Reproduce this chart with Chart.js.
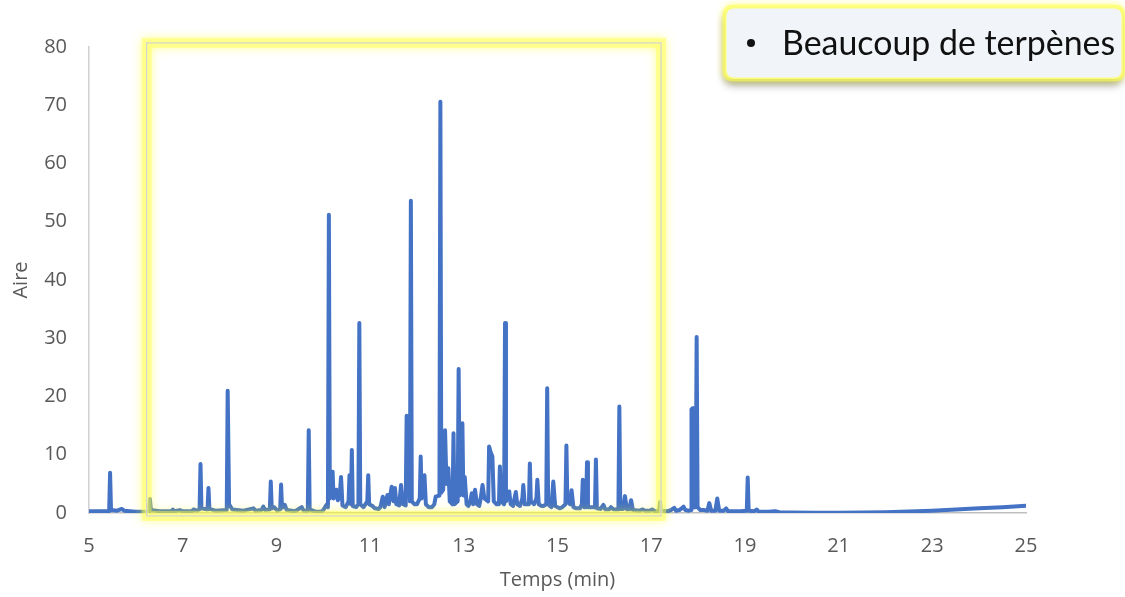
<!DOCTYPE html>
<html>
<head>
<meta charset="utf-8">
<script src="https://cdn.jsdelivr.net/npm/chart.js@4/dist/chart.umd.min.js"></script>
<style>
  html, body { margin: 0; padding: 0; background: #ffffff; }
  #wrap { width: 1125px; height: 597px; position: relative; }
</style>
</head>
<body>
<div id="wrap"><canvas id="c" width="1125" height="597"></canvas></div>
<script>
// ---- Data (time in min, area) ----
const times = [
  5.00, 5.20, 5.43, 5.45, 5.47, 5.60, 5.70, 5.75, 6.00, 6.28, 6.30, 6.32, 6.50, 6.76, 6.79, 6.82, 6.94, 7.00,
  7.20, 7.23, 7.30, 7.36, 7.38, 7.40, 7.53, 7.55, 7.57, 7.70, 7.94, 7.96, 7.99, 8.06, 8.30, 8.51, 8.55,
  8.68, 8.72, 8.76, 8.86, 8.88, 8.90, 8.95, 9.02, 9.08, 9.10, 9.12, 9.18, 9.22, 9.40, 9.54, 9.58, 9.67,
  9.69, 9.71, 9.85, 9.95, 10.00, 10.07, 10.10, 10.12, 10.14, 10.20, 10.22, 10.28, 10.31, 10.35, 10.38,
  10.41, 10.48, 10.54, 10.56, 10.59, 10.61, 10.63, 10.70, 10.75, 10.77, 10.79, 10.86, 10.94, 10.96, 10.98,
  11.05, 11.10, 11.18, 11.22, 11.27, 11.31, 11.37, 11.40, 11.46, 11.50, 11.53, 11.56, 11.62, 11.66, 11.70,
  11.76, 11.78, 11.80, 11.85, 11.87, 11.89, 11.95, 12.00, 12.06, 12.08, 12.10, 12.16, 12.19, 12.25, 12.32,
  12.37, 12.40, 12.48, 12.50, 12.52, 12.56, 12.60, 12.63, 12.67, 12.70, 12.76, 12.78, 12.80, 12.87, 12.89,
  12.91, 12.97, 12.99, 13.02, 13.06, 13.10, 13.14, 13.17, 13.20, 13.24, 13.28, 13.33, 13.36, 13.40, 13.44,
  13.52, 13.54, 13.57, 13.61, 13.64, 13.70, 13.75, 13.77, 13.80, 13.86, 13.88, 13.90, 13.97, 14.00, 14.05,
  14.11, 14.14, 14.20, 14.25, 14.27, 14.30, 14.39, 14.41, 14.43, 14.50, 14.55, 14.57, 14.60, 14.66, 14.70,
  14.76, 14.78, 14.80, 14.87, 14.91, 14.95, 15.00, 15.05, 15.10, 15.17, 15.19, 15.21, 15.27, 15.30, 15.34,
  15.40, 15.48, 15.52, 15.54, 15.57, 15.61, 15.63, 15.65, 15.72, 15.80, 15.82, 15.84, 15.92, 15.98, 16.02,
  16.10, 16.14, 16.20, 16.30, 16.32, 16.34, 16.40, 16.44, 16.48, 16.53, 16.57, 16.61, 16.75, 16.82, 16.87,
  16.97, 17.02, 17.08, 17.17, 17.19, 17.21, 17.35, 17.42, 17.49, 17.53, 17.60, 17.65, 17.69, 17.73, 17.80,
  17.85, 17.86, 17.89, 17.91, 17.95, 17.97, 17.99, 18.05, 18.12, 18.20, 18.24, 18.28, 18.37, 18.41, 18.45,
  18.55, 18.60, 18.64, 18.75, 18.90, 19.04, 19.06, 19.08, 19.20, 19.25, 19.30, 19.50, 19.65, 19.75, 20.00,
  20.50, 21.00, 21.50, 22.00, 22.50, 23.00, 23.50, 24.00, 24.50, 25.00
];
const areas = [
  0.3, 0.3, 0.3, 6.9, 0.5, 0.4, 0.7, 0.4, 0.2, 0.2, 2.4, 0.5, 0.3, 0.3, 0.6, 0.3, 0.5, 0.3,
  0.3, 0.6, 0.4, 0.6, 8.4, 0.8, 0.6, 4.3, 0.7, 0.4, 0.5, 21.0, 1.5, 0.6, 0.4, 0.8, 0.4,
  0.5, 1.1, 0.5, 0.6, 5.4, 0.8, 1.0, 0.4, 0.6, 4.9, 0.9, 1.4, 0.5, 0.3, 1.0, 0.4, 0.4,
  14.2, 0.6, 0.2, 0.2, 0.5, 1.4, 1.0, 51.2, 2.5, 7.1, 2.5, 4.0, 2.2, 2.8, 6.2,
  1.3, 1.0, 2.0, 6.5, 1.5, 10.8, 1.2, 1.0, 1.5, 32.6, 1.5, 1.0, 2.0, 6.5, 1.5,
  1.2, 0.8, 0.7, 1.0, 2.8, 1.0, 3.1, 1.5, 4.5, 2.0, 4.3, 1.5, 1.3, 4.8, 1.5,
  1.3, 16.7, 16.5, 2.0, 53.6, 2.0, 1.5, 1.5, 2.5, 9.7, 2.5, 6.5, 1.5, 1.0, 1.0,
  1.5, 2.8, 3.0, 70.6, 3.5, 4.0, 14.2, 5.0, 7.7, 2.0, 1.5, 13.7, 1.5, 2.0, 24.7,
  3.0, 15.4, 3.0, 6.2, 1.5, 1.2, 2.0, 3.4, 1.5, 4.0, 1.5, 1.2, 2.5, 4.8, 2.5,
  2.0, 11.4, 10.5, 9.7, 2.0, 1.5, 1.5, 8.0, 2.0, 1.5, 32.6, 2.0, 3.7, 1.5, 1.2,
  3.6, 1.5, 1.2, 2.5, 4.8, 1.5, 1.5, 8.5, 2.0, 1.5, 2.5, 5.7, 1.5, 1.2, 1.2,
  1.5, 21.4, 1.5, 1.0, 5.4, 1.2, 1.0, 0.8, 1.0, 1.5, 11.6, 2.0, 1.5, 3.9, 1.0,
  0.8, 0.8, 1.5, 5.7, 1.0, 1.0, 8.7, 1.0, 1.0, 1.0, 9.2, 0.8, 0.7, 1.4, 0.6,
  0.6, 1.0, 0.6, 0.6, 18.3, 0.7, 0.7, 2.9, 0.6, 0.6, 2.2, 0.5, 0.4, 0.6, 0.4,
  0.4, 0.6, 0.3, 0.3, 1.9, 0.4, 0.3, 0.5, 0.9, 0.4, 0.5, 0.8, 1.1, 0.5, 0.4,
  0.5, 17.8, 18.0, 1.0, 1.0, 30.2, 1.0, 0.5, 0.5, 0.4, 1.7, 0.4, 0.4, 2.5, 0.4,
  0.4, 0.8, 0.3, 0.3, 0.3, 0.4, 6.1, 0.4, 0.3, 0.6, 0.2, 0.2, 0.3, 0.1, 0.1,
  0.05, 0.05, 0.1, 0.15, 0.25, 0.4, 0.6, 0.8, 1.0, 1.25
];
const xTickValues = [5, 7, 9, 11, 13, 15, 17, 19, 21, 23, 25];
const yTickValues = [0, 10, 20, 30, 40, 50, 60, 70, 80];
const xTitle = 'Temps (min)';
const yTitle = 'Aire';
const calloutText = 'Beaucoup de terpènes';
const highlightRange = { xFrom: 6.23, xTo: 17.21, yFrom: -0.5, yTo: 80.7 };

const points = times.map((t, i) => ({ x: t, y: areas[i] }));

const highlightPlugin = {
  id: 'highlight',
  afterDatasetsDraw(chart) {
    const { ctx, scales: { x, y } } = chart;
    const x1 = x.getPixelForValue(highlightRange.xFrom);
    const x2 = x.getPixelForValue(highlightRange.xTo);
    const y1 = y.getPixelForValue(highlightRange.yTo);
    const y2 = y.getPixelForValue(highlightRange.yFrom);
    ctx.save();
    ctx.shadowColor = 'rgba(255,255,0,0.9)';
    ctx.shadowBlur = 10;
    ctx.strokeStyle = 'rgba(255,255,80,0.45)';
    ctx.lineWidth = 10;
    ctx.strokeRect(x1, y1, x2 - x1, y2 - y1);
    ctx.shadowBlur = 0;
    ctx.shadowColor = 'transparent';
    ctx.strokeStyle = 'rgba(255,255,140,0.35)';
    ctx.lineWidth = 4;
    ctx.strokeRect(x1, y1, x2 - x1, y2 - y1);
    ctx.strokeStyle = '#d4d4d4';
    ctx.lineWidth = 1.2;
    ctx.strokeRect(x1, y1, x2 - x1, y2 - y1);
    ctx.restore();
  }
};

function roundRect(ctx, x, y, w, h, r) {
  ctx.beginPath();
  ctx.moveTo(x + r, y);
  ctx.lineTo(x + w - r, y);
  ctx.quadraticCurveTo(x + w, y, x + w, y + r);
  ctx.lineTo(x + w, y + h - r);
  ctx.quadraticCurveTo(x + w, y + h, x + w - r, y + h);
  ctx.lineTo(x + r, y + h);
  ctx.quadraticCurveTo(x, y + h, x, y + h - r);
  ctx.lineTo(x, y + r);
  ctx.quadraticCurveTo(x, y, x + r, y);
  ctx.closePath();
}

const calloutPlugin = {
  id: 'callout',
  afterDraw(chart) {
    const ctx = chart.ctx;
    const bx = 725, by = 7, bw = 398, bh = 72;
    ctx.save();
    // drop shadow
    ctx.shadowColor = 'rgba(0,0,0,0.4)';
    ctx.shadowBlur = 8;
    ctx.shadowOffsetX = -1;
    ctx.shadowOffsetY = 6;
    roundRect(ctx, bx, by, bw, bh, 9);
    ctx.fillStyle = '#f1f5fa';
    ctx.fill();
    // yellow glow border
    ctx.shadowColor = 'rgba(255,255,0,0.9)';
    ctx.shadowBlur = 6;
    ctx.shadowOffsetX = 0;
    ctx.shadowOffsetY = 0;
    ctx.strokeStyle = 'rgba(255,255,90,0.6)';
    ctx.lineWidth = 5;
    roundRect(ctx, bx, by, bw, bh, 9);
    ctx.stroke();
    ctx.shadowColor = 'transparent';
    ctx.shadowBlur = 0;
    roundRect(ctx, bx + 1.5, by + 1.5, bw - 3, bh - 3, 8);
    ctx.fillStyle = '#f1f5fa';
    ctx.fill();
    // text
    ctx.fillStyle = '#111111';
    ctx.textBaseline = 'alphabetic';
    ctx.font = '33px Lato';
    const w = ctx.measureText(calloutText).width;
    const fs = 33 * 333 / w;
    ctx.font = fs.toFixed(1) + 'px Lato';
    ctx.fillText(calloutText, 782, 55);
    ctx.beginPath();
    ctx.arc(751, 43, 4, 0, Math.PI * 2);
    ctx.fill();
    ctx.restore();
  }
};

const axisFont = { family: 'Open Sans', size: 20 };

new Chart(document.getElementById('c'), {
  type: 'scatter',
  data: {
    datasets: [{
      data: points,
      showLine: true,
      borderColor: '#4472C4',
      backgroundColor: '#4472C4',
      borderWidth: 4,
      pointRadius: 0,
      tension: 0,
      borderJoinStyle: 'round',
      borderCapStyle: 'round'
    }]
  },
  options: {
    responsive: false,
    animation: false,
    devicePixelRatio: 1,
    layout: { padding: { left: 0, right: 99, top: 47, bottom: 0 } },
    plugins: { legend: { display: false }, tooltip: { enabled: false } },
    scales: {
      x: {
        type: 'linear',
        min: 5, max: 25,
        afterBuildTicks: (s) => { s.ticks = xTickValues.map(v => ({ value: v })); },
        afterFit: (s) => { s.height = 84; },
        grid: { display: false, drawTicks: false },
        border: { display: true, color: '#BFBFBF', width: 1.5 },
        ticks: { padding: 21, color: '#595959', font: axisFont, maxRotation: 0 },
        title: { display: true, text: xTitle, color: '#595959', font: axisFont, padding: { top: 0, bottom: 5 } }
      },
      y: {
        min: 0, max: 80,
        afterBuildTicks: (s) => { s.ticks = yTickValues.map(v => ({ value: v })); },
        afterFit: (s) => { s.width = 89; },
        grid: { display: false, drawTicks: false },
        border: { display: true, color: '#D0D0D0', width: 1.5 },
        ticks: { padding: 22, color: '#595959', font: axisFont },
        title: { display: true, text: yTitle, color: '#595959', font: axisFont, padding: { top: 9, bottom: 0 } }
      }
    }
  },
  plugins: [highlightPlugin, calloutPlugin]
});
</script>
</body>
</html>
